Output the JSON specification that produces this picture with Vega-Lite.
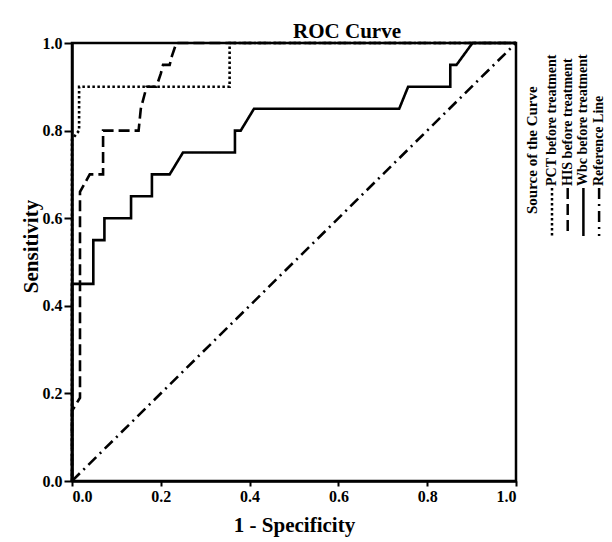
{
  "$schema": "https://vega.github.io/schema/vega-lite/v6.json",
  "width": 444,
  "height": 438,
  "autosize": {"type": "none"},
  "padding": {"left": 72, "top": 43, "right": 96, "bottom": 61},
  "background": "white",
  "title": {"text": "ROC Curve", "font": "Liberation Serif", "fontSize": 21, "fontWeight": "bold", "color": "black", "anchor": "middle", "frame": "group", "dx": 53, "dy": 30, "offset": 2, "baseline": "bottom"},
  "data": {"values": [
    {"series": "PCT before treatment", "i": 0, "fpr": 0, "tpr": 0},
    {"series": "PCT before treatment", "i": 1, "fpr": 0, "tpr": 0.78},
    {"series": "PCT before treatment", "i": 2, "fpr": 0.016, "tpr": 0.8},
    {"series": "PCT before treatment", "i": 3, "fpr": 0.016, "tpr": 0.9},
    {"series": "PCT before treatment", "i": 4, "fpr": 0.355, "tpr": 0.9},
    {"series": "PCT before treatment", "i": 5, "fpr": 0.355, "tpr": 1},
    {"series": "PCT before treatment", "i": 6, "fpr": 1, "tpr": 1},
    {"series": "HIS before treatment", "i": 0, "fpr": 0, "tpr": 0},
    {"series": "HIS before treatment", "i": 1, "fpr": 0, "tpr": 0.16},
    {"series": "HIS before treatment", "i": 2, "fpr": 0.018, "tpr": 0.19},
    {"series": "HIS before treatment", "i": 3, "fpr": 0.018, "tpr": 0.66},
    {"series": "HIS before treatment", "i": 4, "fpr": 0.04, "tpr": 0.7},
    {"series": "HIS before treatment", "i": 5, "fpr": 0.07, "tpr": 0.7},
    {"series": "HIS before treatment", "i": 6, "fpr": 0.07, "tpr": 0.8},
    {"series": "HIS before treatment", "i": 7, "fpr": 0.15, "tpr": 0.8},
    {"series": "HIS before treatment", "i": 8, "fpr": 0.155, "tpr": 0.85},
    {"series": "HIS before treatment", "i": 9, "fpr": 0.168, "tpr": 0.9},
    {"series": "HIS before treatment", "i": 10, "fpr": 0.19, "tpr": 0.9},
    {"series": "HIS before treatment", "i": 11, "fpr": 0.2, "tpr": 0.93},
    {"series": "HIS before treatment", "i": 12, "fpr": 0.205, "tpr": 0.95},
    {"series": "HIS before treatment", "i": 13, "fpr": 0.22, "tpr": 0.95},
    {"series": "HIS before treatment", "i": 14, "fpr": 0.225, "tpr": 0.97},
    {"series": "HIS before treatment", "i": 15, "fpr": 0.235, "tpr": 1},
    {"series": "HIS before treatment", "i": 16, "fpr": 1, "tpr": 1},
    {"series": "Wbc before treatment", "i": 0, "fpr": 0, "tpr": 0},
    {"series": "Wbc before treatment", "i": 1, "fpr": 0, "tpr": 0.45},
    {"series": "Wbc before treatment", "i": 2, "fpr": 0.048, "tpr": 0.45},
    {"series": "Wbc before treatment", "i": 3, "fpr": 0.048, "tpr": 0.55},
    {"series": "Wbc before treatment", "i": 4, "fpr": 0.073, "tpr": 0.55},
    {"series": "Wbc before treatment", "i": 5, "fpr": 0.073, "tpr": 0.6},
    {"series": "Wbc before treatment", "i": 6, "fpr": 0.133, "tpr": 0.6},
    {"series": "Wbc before treatment", "i": 7, "fpr": 0.133, "tpr": 0.65},
    {"series": "Wbc before treatment", "i": 8, "fpr": 0.18, "tpr": 0.65},
    {"series": "Wbc before treatment", "i": 9, "fpr": 0.18, "tpr": 0.7},
    {"series": "Wbc before treatment", "i": 10, "fpr": 0.22, "tpr": 0.7},
    {"series": "Wbc before treatment", "i": 11, "fpr": 0.25, "tpr": 0.75},
    {"series": "Wbc before treatment", "i": 12, "fpr": 0.367, "tpr": 0.75},
    {"series": "Wbc before treatment", "i": 13, "fpr": 0.367, "tpr": 0.8},
    {"series": "Wbc before treatment", "i": 14, "fpr": 0.38, "tpr": 0.8},
    {"series": "Wbc before treatment", "i": 15, "fpr": 0.41, "tpr": 0.85},
    {"series": "Wbc before treatment", "i": 16, "fpr": 0.737, "tpr": 0.85},
    {"series": "Wbc before treatment", "i": 17, "fpr": 0.757, "tpr": 0.9},
    {"series": "Wbc before treatment", "i": 18, "fpr": 0.852, "tpr": 0.9},
    {"series": "Wbc before treatment", "i": 19, "fpr": 0.852, "tpr": 0.95},
    {"series": "Wbc before treatment", "i": 20, "fpr": 0.866, "tpr": 0.95},
    {"series": "Wbc before treatment", "i": 21, "fpr": 0.902, "tpr": 1},
    {"series": "Wbc before treatment", "i": 22, "fpr": 1, "tpr": 1},
    {"series": "Reference Line", "i": 0, "fpr": 0, "tpr": 0},
    {"series": "Reference Line", "i": 1, "fpr": 1, "tpr": 1}
  ]},
  "mark": {"type": "line", "color": "black", "strokeWidth": 2.6, "strokeCap": "butt", "clip": false},
  "encoding": {
    "x": {"field": "fpr", "type": "quantitative", "scale": {"domain": [0, 1], "nice": false, "zero": false},
      "axis": {"title": "1 - Specificity", "values": [0, 0.2, 0.4, 0.6, 0.8, 1], "format": ".1f", "tickSize": 5, "labelPadding": 2, "titlePadding": 10}},
    "y": {"field": "tpr", "type": "quantitative", "scale": {"domain": [0, 1], "nice": false, "zero": false},
      "axis": {"title": "Sensitivity", "values": [0, 0.2, 0.4, 0.6, 0.8, 1], "format": ".1f", "tickSize": 8, "labelPadding": 2, "titlePadding": 1, "titleY": 203}},
    "order": {"field": "i", "type": "quantitative"},
    "strokeDash": {"field": "series", "type": "nominal",
      "scale": {"domain": ["PCT before treatment", "HIS before treatment", "Wbc before treatment", "Reference Line"],
                "range": [[2.5, 2.5], [11, 5], [1, 0], [11, 5, 2, 5]]},
      "legend": {
        "title": "Source of the Curve",
        "orient": "none", "legendX": 452.5, "legendY": -4, "padding": 0,
        "direction": "horizontal", "columns": 4, "columnPadding": 1.7,
        "titleOrient": "left", "titleFont": "Liberation Serif", "titleFontSize": 15, "titleFontWeight": "bold", "titleColor": "black", "titlePadding": 4.5,
        "labelFont": "Liberation Serif", "labelFontSize": 14, "labelFontWeight": "bold", "labelColor": "black", "labelLimit": 0,
        "symbolType": "M0,-1L0,1", "symbolSize": 2304, "symbolStrokeColor": "black", "symbolStrokeWidth": 2.5, "symbolFillColor": "transparent",
        "encoding": {
          "symbols": {"x": {"value": 0}, "y": {"value": 173}},
          "labels": {"x": {"value": 0}, "y": {"value": 147}, "angle": {"value": -90}, "align": {"value": "left"}, "baseline": {"value": "middle"}},
          "title": {"angle": {"value": -90}, "align": {"value": "left"}, "baseline": {"value": "middle"}, "dx": {"value": -74}}
        }
      }
    }
  },
  "config": {
    "view": {"stroke": "black", "strokeWidth": 2.5},
    "axis": {"grid": false, "domainColor": "black", "domainWidth": 2.5, "tickColor": "black", "tickWidth": 2, "labelFont": "Liberation Serif", "labelFontSize": 16, "labelFontWeight": "bold", "labelColor": "black", "titleFont": "Liberation Serif", "titleFontSize": 21, "titleFontWeight": "bold", "titleColor": "black"}
  }
}
